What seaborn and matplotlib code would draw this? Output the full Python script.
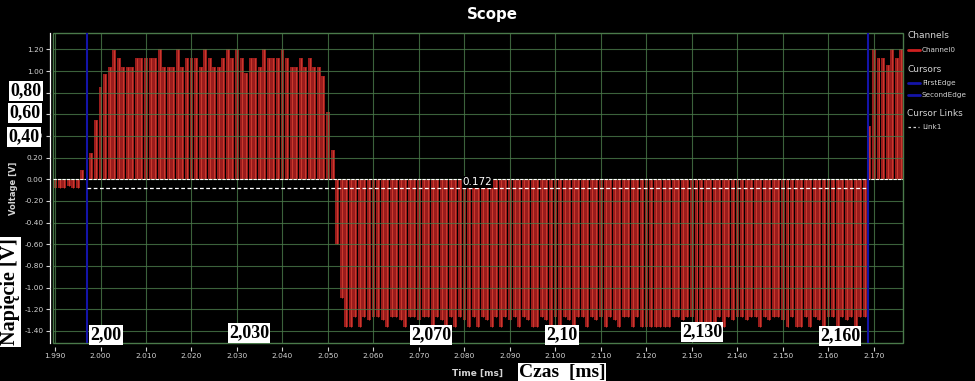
import numpy as np
import pandas as pd
import matplotlib
matplotlib.use("Agg")
import matplotlib.pyplot as plt
from matplotlib.lines import Line2D
from matplotlib.patches import Rectangle
import seaborn as sns

# --- Data ---
T_START = 1.990   # ms, time of first sample
T_STEP = 0.001    # ms between samples

# Channel0 peak value of each sample [V]
signal_v = [
    # 1.990 - 1.999 : before the edge
    -0.08, -0.08, -0.08, -0.06, -0.08, -0.08, 0.09, 0.00, 0.24, 0.55,
    # 2.000 - 2.009
    0.85, 0.97, 1.04, 1.19, 1.12, 1.04, 1.04, 1.04, 1.12, 1.12,
    # 2.010 - 2.019
    1.12, 1.12, 1.12, 1.20, 1.04, 1.04, 1.04, 1.20, 1.04, 1.12,
    # 2.020 - 2.029
    1.12, 1.12, 1.04, 1.20, 1.12, 1.04, 1.04, 1.12, 1.20, 1.12,
    # 2.030 - 2.039
    1.20, 1.12, 0.98, 1.12, 1.12, 1.04, 1.20, 1.12, 1.12, 1.12,
    # 2.040 - 2.049
    1.20, 1.12, 1.04, 1.04, 1.12, 1.04, 1.12, 1.04, 1.04, 0.95,
    # 2.050 - 2.059
    0.62, 0.27, -0.60, -1.10, -1.36, -1.36, -1.27, -1.36, -1.27, -1.30,
    # 2.060 - 2.069
    -1.27, -1.27, -1.30, -1.36, -1.27, -1.27, -1.30, -1.36, -1.27, -1.27,
    # 2.070 - 2.079
    -1.30, -1.27, -1.27, -1.36, -1.27, -1.30, -1.36, -1.27, -1.36, -1.27,
    # 2.080 - 2.089
    -1.30, -1.36, -1.27, -1.36, -1.27, -1.30, -1.36, -1.27, -1.36, -1.27,
    # 2.090 - 2.099
    -1.30, -1.27, -1.36, -1.27, -1.30, -1.36, -1.36, -1.27, -1.30, -1.36,
    # 2.100 - 2.109
    -1.27, -1.36, -1.27, -1.30, -1.36, -1.27, -1.27, -1.36, -1.27, -1.30,
    # 2.110 - 2.119
    -1.27, -1.36, -1.27, -1.30, -1.36, -1.27, -1.27, -1.36, -1.27, -1.36,
    # 2.120 - 2.129
    -1.36, -1.36, -1.36, -1.36, -1.36, -1.36, -1.27, -1.27, -1.30, -1.27,
    # 2.130 - 2.139
    -1.27, -1.36, -1.36, -1.36, -1.36, -1.36, -1.27, -1.36, -1.27, -1.30,
    # 2.140 - 2.149
    -1.27, -1.27, -1.30, -1.27, -1.27, -1.36, -1.27, -1.30, -1.27, -1.27,
    # 2.150 - 2.159
    -1.30, -1.36, -1.27, -1.36, -1.36, -1.27, -1.36, -1.27, -1.30, -1.38,
    # 2.160 - 2.169
    -1.27, -1.27, -1.36, -1.27, -1.30, -1.27, -1.36, -1.27, -1.27, 0.49,
    # 2.170 - 2.176
    1.20, 1.12, 1.12, 1.06, 1.20, 1.12, 1.20,
]

cursor_names = ["FirstEdge", "SecondEdge"]
cursor_times = [1.9970, 2.1687]
link_level = -0.08
link_label = "0.172"

x_ticks = [1.990, 2.000, 2.010, 2.020, 2.030, 2.040, 2.050, 2.060, 2.070, 2.080,
           2.090, 2.100, 2.110, 2.120, 2.130, 2.140, 2.150, 2.160, 2.170]
y_ticks = [1.20, 1.00, 0.80, 0.60, 0.40, 0.20, 0.00, -0.20, -0.40, -0.60,
           -0.80, -1.00, -1.20, -1.40]

# white boxes pasted over the screenshot: (text, centre x px, centre y px, size, rotation)
overlay = [
    ("0,80", 26, 91, 13, 0),
    ("0,60", 25, 113, 13, 0),
    ("0,40", 24, 137, 13, 0),
    ("Napięcie [V]", 10, 292, 14.5, 90),
    ("2,00", 106, 335, 13, 0),
    ("2,030", 249, 333, 13, 0),
    ("2,070", 431, 335, 13, 0),
    ("2,10", 562, 335, 13, 0),
    ("2,130", 702, 332, 13, 0),
    ("2,160", 840, 336, 13, 0),
    ("Czas  [ms]", 562, 373, 14, 0),
]

# --- Style ---
W, H = 975, 381
sns.set_theme(style="dark", rc={"figure.facecolor": "black",
                                "axes.facecolor": "black",
                                "savefig.facecolor": "black"})
plt.rcParams["font.family"] = ["DejaVu Sans"]

GRID = "#4a7a4a"
RED = "#9a1c1c"
RED_HI = "#cc3a2e"
BLUE = "#1414a8"
TXT = "#d4d4d4"


def fx(x):
    return x / W


def fy(y):
    return 1 - y / H


fig = plt.figure(figsize=(W / 100, H / 100), dpi=100)
left, right, top, bottom = 53, 902.7, 33, 342.7
ax = fig.add_axes([fx(left), fy(bottom), (right - left) / W, (bottom - top) / H])

t = T_START + T_STEP * np.arange(len(signal_v))
df = pd.DataFrame({"time": t, "volt": signal_v})

sns.barplot(data=df, x="time", y="volt", native_scale=True, width=0.86,
            color=RED, saturation=1, errorbar=None, ax=ax, zorder=1,
            edgecolor="none", linewidth=0)
ax.vlines(df["time"], 0, df["volt"], color=RED_HI, lw=0.7, zorder=1.5)

ax.set_xlim(1.98956, 2.17631)
ax.set_ylim(-1.509, 1.351)
ax.set_xticks(x_ticks)
ax.set_xticklabels([f"{v:.3f}" for v in x_ticks])
ax.set_yticks(y_ticks)
ax.set_yticklabels([f"{v:.2f}" for v in y_ticks])
ax.grid(True, color=GRID, lw=0.8, alpha=0.8)
ax.set_axisbelow(False)
ax.set_xlabel("")
ax.set_ylabel("")

for s in ["top", "right"]:
    ax.spines[s].set_visible(False)
ax.spines["left"].set_position(("outward", 2.5))
ax.spines["left"].set_color("white")
ax.spines["left"].set_linewidth(0.9)
ax.spines["bottom"].set_position(("outward", 3))
ax.spines["bottom"].set_color("none")
ax.tick_params(axis="both", colors=TXT, labelsize=5.3, length=3.2, width=0.8,
               pad=1.2, direction="out", bottom=True, left=True)
ax.add_patch(Rectangle((0, 0), 1, 1, transform=ax.transAxes, fill=False,
                       ec=GRID, lw=1.0, clip_on=False, zorder=3))

# zero line, cursors and cursor link
ax.axhline(0, color="white", lw=0.8, ls=(0, (3, 1)), zorder=4)
for ct in cursor_times:
    ax.axvline(ct, color=BLUE, lw=1.5, zorder=4)
ax.plot(cursor_times, [link_level, link_level], color="white", lw=0.9,
        ls=(0, (3, 2)), zorder=4)
ax.text(sum(cursor_times) / 2, -0.025, link_label, color="white", fontsize=7.5,
        ha="center", va="center", zorder=5,
        bbox=dict(boxstyle="square,pad=0.1", fc="black", ec="none"))

# titles
fig.text(fx(492), fy(15), "Scope", color="white", fontsize=10.8,
         fontweight="bold", ha="center", va="center")
fig.text(fx(478), fy(373), "Time [ms]", color=TXT, fontsize=6.5,
         fontweight="bold", ha="center", va="center")
fig.text(fx(14), fy(188), "Voltage [V]", color=TXT, fontsize=6,
         fontweight="bold", ha="center", va="center", rotation=90)

# legend
fig.text(fx(907), fy(36), "Channels", color=TXT, fontsize=6.5, va="center")
fig.add_artist(Line2D([fx(908), fx(920)], [fy(50), fy(50)], color="#d02020", lw=2))
fig.text(fx(922), fy(50), "Channel0", color=TXT, fontsize=5.2, va="center")
fig.text(fx(907), fy(70), "Cursors", color=TXT, fontsize=6.5, va="center")
for name, yy in zip(cursor_names, [83, 95]):
    fig.add_artist(Line2D([fx(908), fx(920)], [fy(yy), fy(yy)], color=BLUE, lw=2))
    fig.text(fx(922), fy(yy), name, color=TXT, fontsize=5.2, va="center")
fig.text(fx(907), fy(114), "Cursor Links", color=TXT, fontsize=6.5, va="center")
fig.add_artist(Line2D([fx(908), fx(919)], [fy(127), fy(127)], color=TXT, lw=0.9,
                      ls=(0, (2, 2))))
fig.text(fx(922), fy(127), "Link1", color=TXT, fontsize=5.2, va="center")

# pasted Polish labels
for txt, cx, cy, size, rot in overlay:
    fig.text(fx(cx), fy(cy), txt, color="black", fontsize=size, fontweight="bold",
             family=["Liberation Serif", "DejaVu Serif"], ha="center", va="center",
             rotation=rot, zorder=10,
             bbox=dict(boxstyle="square,pad=0.06", fc="white", ec="none"))

fig.savefig("out.png", dpi=100, facecolor="black")
